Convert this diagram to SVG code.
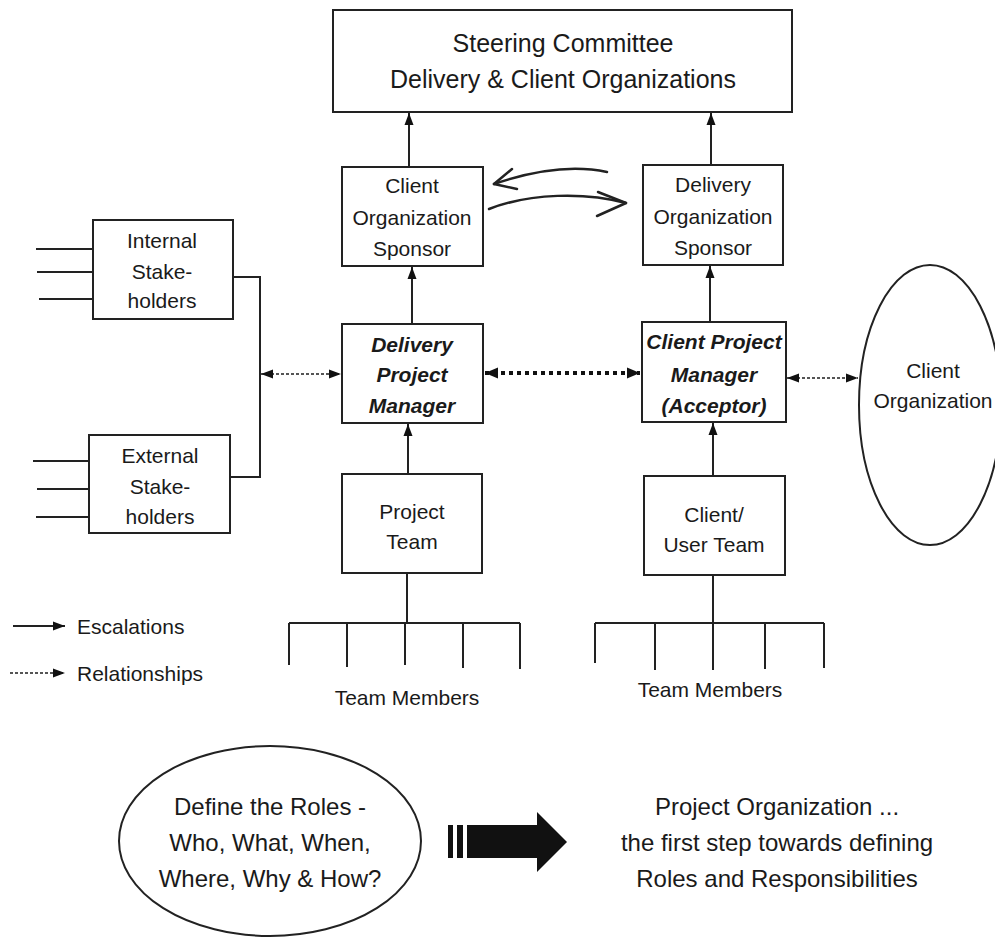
<svg xmlns="http://www.w3.org/2000/svg" width="995" height="939" viewBox="0 0 995 939">
<style>
.box{fill:none;stroke:#222;stroke-width:2}
.t{font-family:"Liberation Sans",Arial,sans-serif;font-size:21px;fill:#1a1a1a;text-anchor:middle}
.s{text-anchor:start}
.bi{font-weight:bold;font-style:italic}
.big{font-size:24px}
.esc{stroke:#222;stroke-width:2;fill:none}
.rel{stroke:#555;stroke-width:2;stroke-dasharray:3 2;fill:none}
.relb{stroke:#111;stroke-width:4;stroke-dasharray:4 4;fill:none}
.ln{stroke:#222;stroke-width:2;fill:none}
.hand{stroke:#222;stroke-width:2.5;fill:none;stroke-linecap:round;stroke-linejoin:round}
</style>
<defs>
<marker id="ah" viewBox="0 0 12 10" refX="12" refY="5" markerWidth="12" markerHeight="10" markerUnits="userSpaceOnUse" orient="auto-start-reverse">
<path d="M0,0.5 L12,5 L0,9.5 z" fill="#111"/>
</marker>
<marker id="ahb" viewBox="0 0 13 12" refX="13" refY="6" markerWidth="13" markerHeight="12" markerUnits="userSpaceOnUse" orient="auto-start-reverse">
<path d="M0,0.5 L13,6 L0,11.5 z" fill="#111"/>
</marker>
</defs>
<rect width="995" height="939" fill="#fff"/>

<g id="connectors">
<path class="esc" d="M409,167 V113" marker-end="url(#ah)"/>
<path class="esc" d="M711,165 V113" marker-end="url(#ah)"/>
<path class="esc" d="M412,324 V267" marker-end="url(#ah)"/>
<path class="esc" d="M710,322 V266" marker-end="url(#ah)"/>
<path class="esc" d="M408,474 V424" marker-end="url(#ah)"/>
<path class="esc" d="M713,476 V423" marker-end="url(#ah)"/>
<path class="ln" d="M233,277 H260 V477 H230"/>
<path class="rel" d="M261,374 H341" marker-start="url(#ah)" marker-end="url(#ah)"/>
<path class="rel" d="M787,378 H858" marker-start="url(#ah)" marker-end="url(#ah)"/>
<path class="relb" d="M485,373 H640" marker-start="url(#ahb)" marker-end="url(#ahb)"/>
<path class="ln" d="M36,249 H93 M37,272 H93 M39,299 H93"/>
<path class="ln" d="M33,461 H89 M37,489 H89 M36,517 H89"/>
<path class="ln" d="M407,573 V623 M289,623 H520 M289,623 V665 M347,623 V667 M405,623 V665 M463,623 V668 M520,623 V669"/>
<path class="ln" d="M713,575 V623 M595,623 H824 M595,623 V663 M655,623 V670 M713,623 V670 M765,623 V669 M824,623 V668"/>
<path class="hand" d="M607,172 C575,165 535,170 494,184"/>
<path class="hand" d="M512,169 L494,184 L517,189"/>
<path class="hand" d="M489,209 C530,193 585,192 626,203"/>
<path class="hand" d="M598,192 L626,203 L597,216"/>
</g>

<g id="steering">
<rect class="box" x="333" y="10" width="459" height="102"/>
<text class="t" x="563" y="52" style="font-size:25px">Steering Committee</text>
<text class="t" x="563" y="88" style="font-size:25px">Delivery &amp; Client Organizations</text>
</g>
<g id="client-org-sponsor">
<rect class="box" x="342" y="167" width="141" height="99"/>
<text class="t" x="412" y="193">Client</text>
<text class="t" x="412" y="225">Organization</text>
<text class="t" x="412" y="256">Sponsor</text>
</g>
<g id="delivery-org-sponsor">
<rect class="box" x="643" y="165" width="140" height="100"/>
<text class="t" x="713" y="192">Delivery</text>
<text class="t" x="713" y="224">Organization</text>
<text class="t" x="713" y="255">Sponsor</text>
</g>
<g id="delivery-pm">
<rect class="box" x="342" y="324" width="141" height="99"/>
<text class="t bi" x="412" y="352">Delivery</text>
<text class="t bi" x="412" y="382">Project</text>
<text class="t bi" x="412" y="413">Manager</text>
</g>
<g id="client-pm">
<rect class="box" x="642" y="322" width="144" height="100"/>
<text class="t bi" x="714" y="349">Client Project</text>
<text class="t bi" x="714" y="382">Manager</text>
<text class="t bi" x="714" y="413">(Acceptor)</text>
</g>
<g id="project-team">
<rect class="box" x="342" y="474" width="140" height="99"/>
<text class="t" x="412" y="519">Project</text>
<text class="t" x="412" y="549">Team</text>
</g>
<g id="client-user-team">
<rect class="box" x="644" y="476" width="141" height="99"/>
<text class="t" x="714" y="522">Client/</text>
<text class="t" x="714" y="552">User Team</text>
</g>
<g id="internal-stakeholders">
<rect class="box" x="93" y="220" width="140" height="99"/>
<text class="t" x="162" y="248">Internal</text>
<text class="t" x="162" y="279">Stake-</text>
<text class="t" x="162" y="308">holders</text>
</g>
<g id="external-stakeholders">
<rect class="box" x="89" y="435" width="141" height="98"/>
<text class="t" x="160" y="463">External</text>
<text class="t" x="160" y="494">Stake-</text>
<text class="t" x="160" y="524">holders</text>
</g>
<g id="client-organization">
<ellipse class="box" cx="930" cy="405" rx="71" ry="140"/>
<text class="t" x="933" y="378">Client</text>
<text class="t" x="933" y="408">Organization</text>
</g>
<g id="team-members-left">
<text class="t" x="407" y="705">Team Members</text>
</g>
<g id="team-members-right">
<text class="t" x="710" y="697">Team Members</text>
</g>
<g id="legend">
<path class="esc" d="M13,626 H65" marker-end="url(#ah)"/>
<path class="rel" d="M10,673 H65" marker-end="url(#ah)"/>
<text class="t s" x="77" y="634">Escalations</text>
<text class="t s" x="77" y="681">Relationships</text>
</g>
<g id="define-roles">
<ellipse class="box" cx="270" cy="841" rx="151" ry="95"/>
<text class="t big" x="270" y="815">Define the Roles -</text>
<text class="t big" x="270" y="851">Who, What, When,</text>
<text class="t big" x="270" y="887">Where, Why &amp; How?</text>
</g>
<g id="big-arrow">
<rect x="448" y="825" width="5" height="33" fill="#111"/>
<rect x="457" y="825" width="6" height="33" fill="#111"/>
<path d="M467,825 H537 V812 L567,842 L537,872 V858 H467 Z" fill="#111"/>
</g>
<g id="project-organization">
<text class="t big" x="777" y="815">Project Organization ...</text>
<text class="t big" x="777" y="851">the first step towards defining</text>
<text class="t big" x="777" y="887">Roles and Responsibilities</text>
</g>
</svg>
